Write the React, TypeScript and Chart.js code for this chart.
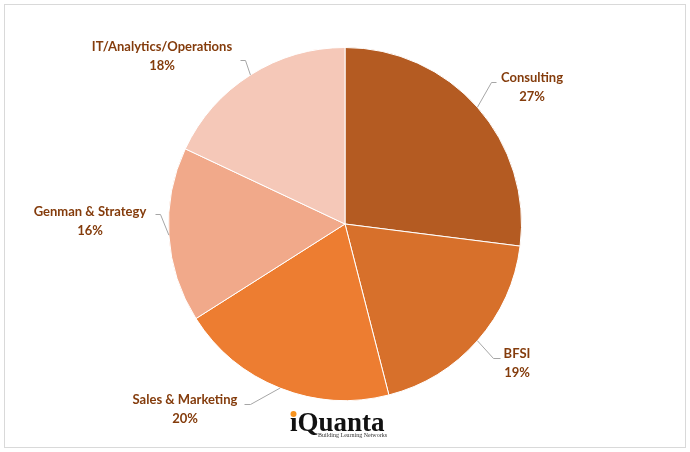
import React, { useEffect, useRef } from "react";
import { Chart, registerables } from "chart.js";

Chart.register(...registerables);

const categories = ["Consulting", "BFSI", "Sales & Marketing", "Genman & Strategy", "IT/Analytics/Operations"];
const shares = [27, 19, 20, 16, 18];
const percentLabels = ["27%", "19%", "20%", "16%", "18%"];
const sliceColors = ["#B45B22", "#D7702B", "#ED7D31", "#F1A98A", "#F5C8B8"];

// label layout: text centre, elbow point, line end near text
const labelLayout = [
  { tx: 532, ty: 78, elbow: [491, 82], end: [496, 82] },
  { tx: 517, ty: 354, elbow: [493, 358], end: [500, 358] },
  { tx: 185, ty: 400, elbow: [250, 404], end: [244, 404] },
  { tx: 90, ty: 212, elbow: [160, 214], end: [155, 214] },
  { tx: 162, ty: 47, elbow: [245, 60], end: [240, 60] },
];

const decorPlugin = {
  id: "decor",
  afterDraw(chart: any) {
    const ctx = chart.ctx as CanvasRenderingContext2D;
    const meta = chart.getDatasetMeta(0);
    ctx.save();
    // border
    ctx.strokeStyle = "#D9D9D9";
    ctx.lineWidth = 1;
    ctx.strokeRect(4.5, 4.5, 681, 443);

    meta.data.forEach((arc: any, i: number) => {
      const p = arc.getProps(["x", "y", "startAngle", "endAngle", "outerRadius"], true);
      const mid = (p.startAngle + p.endAngle) / 2;
      const ex = p.x + Math.cos(mid) * p.outerRadius;
      const ey = p.y + Math.sin(mid) * p.outerRadius;
      const L = labelLayout[i];
      ctx.strokeStyle = "#A6A6A6";
      ctx.lineWidth = 1;
      ctx.beginPath();
      ctx.moveTo(ex, ey);
      ctx.lineTo(L.elbow[0] + 0.5, L.elbow[1] + 0.5);
      ctx.lineTo(L.end[0] + 0.5, L.end[1] + 0.5);
      ctx.stroke();

      ctx.fillStyle = "#843C0C";
      ctx.font = "bold 13px Lato";
      ctx.textAlign = "center";
      ctx.textBaseline = "middle";
      ctx.fillText(categories[i], L.tx, L.ty);
      ctx.fillText(percentLabels[i], L.tx, L.ty + 19);
    });

    // logo
    ctx.textAlign = "left";
    ctx.textBaseline = "alphabetic";
    ctx.fillStyle = "#111111";
    ctx.font = "bold 27px 'Liberation Serif'";
    ctx.fillText("\u0131Quanta", 290, 431);
    ctx.fillStyle = "#F7931E";
    ctx.beginPath();
    ctx.arc(293.5, 414, 3, 0, Math.PI * 2);
    ctx.fill();
    ctx.fillStyle = "#333333";
    ctx.font = "6px 'Liberation Serif'";
    ctx.fillText("Building Learning Networks", 318, 437);
    ctx.restore();
  },
};

export default function App() {
  const ref = useRef<HTMLCanvasElement>(null);
  useEffect(() => {
    if (!ref.current) return;
    const chart = new Chart(ref.current, {
      type: "pie",
      data: {
        labels: categories,
        datasets: [
          {
            data: shares,
            backgroundColor: sliceColors,
            borderColor: "#FFFFFF",
            borderWidth: 1,
          },
        ],
      },
      options: {
        responsive: false,
        animation: false,
        layout: { padding: { left: 168, right: 168, top: 47, bottom: 51 } },
        plugins: { legend: { display: false }, tooltip: { enabled: false } },
      },
      plugins: [decorPlugin],
    });
    return () => chart.destroy();
  }, []);
  return (
    <div style={{ position: "absolute", left: 0, top: 0, width: 690, height: 452, background: "#fff" }}>
      <canvas ref={ref} width={690} height={452} />
    </div>
  );
}
